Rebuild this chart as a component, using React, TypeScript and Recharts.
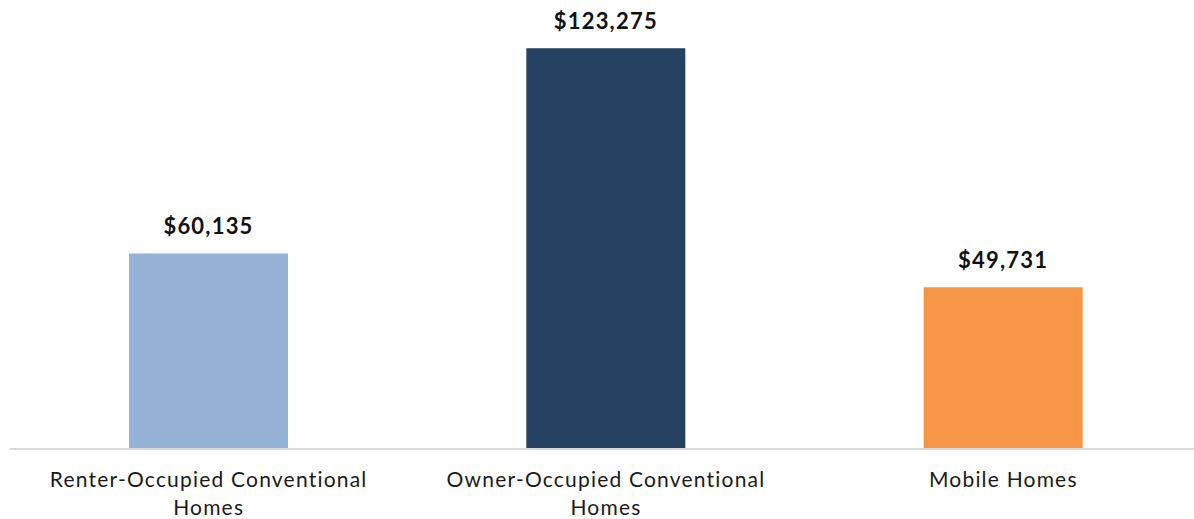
import React from 'react';
import { BarChart, Bar, XAxis, YAxis, Cell, LabelList } from 'recharts';

const categories = [
  'Renter-Occupied Conventional Homes',
  'Owner-Occupied Conventional Homes',
  'Mobile Homes',
];
const values = [60135, 123275, 49731];
const barColors = ['#95B3D7', '#254061', '#F79646'];

const data = categories.map((name, i) => ({ name, value: values[i] }));

const FONT = 'Lato, "Open Sans", sans-serif';

const formatMoney = (v: number) => '$' + v.toLocaleString('en-US');

// greedy word wrap, roughly what Excel does at this width
function wrapWords(label: string, maxChars: number) {
  const lines: string[] = [];
  let cur = '';
  label.split(' ').forEach((w) => {
    const next = cur ? cur + ' ' + w : w;
    if (next.length > maxChars && cur) {
      lines.push(cur);
      cur = w;
    } else {
      cur = next;
    }
  });
  if (cur) lines.push(cur);
  return lines;
}

function CategoryTick(props: any) {
  const { x, y, payload } = props;
  const lines = wrapWords(String(payload.value), 28);
  return (
    <text
      x={x}
      y={y + 15}
      textAnchor="middle"
      fontFamily={FONT}
      fontSize={21}
      letterSpacing={1.2}
      fill="#1a1a1a"
    >
      {lines.map((ln, i) => (
        <tspan key={i} x={x} dy={i === 0 ? '0.71em' : 28}>
          {ln}
        </tspan>
      ))}
    </text>
  );
}

export default function App() {
  return (
    <div style={{ position: 'absolute', left: 0, top: 0, width: 1194, height: 519, overflow: 'hidden', background: '#fff' }}>
      <BarChart
        width={1202}
        height={519}
        data={data}
        margin={{ top: 10, right: 0, left: 10, bottom: 0 }}
      >
        <XAxis
          dataKey="name"
          axisLine={{ stroke: '#d9d9d9', strokeWidth: 2 }}
          tickLine={false}
          height={70}
          interval={0}
          tick={<CategoryTick />}
        />
        <YAxis hide domain={[0, 135000]} />
        <Bar dataKey="value" barSize={159} isAnimationActive={false}>
          {data.map((d, i) => (
            <Cell key={d.name} fill={barColors[i]} />
          ))}
          <LabelList
            dataKey="value"
            position="top"
            offset={19}
            formatter={(v: any) => formatMoney(Number(v))}
            style={{ fontFamily: FONT, fontSize: 22, fontWeight: 700, fill: '#111', letterSpacing: 1.2 }}
          />
        </Bar>
      </BarChart>
    </div>
  );
}
